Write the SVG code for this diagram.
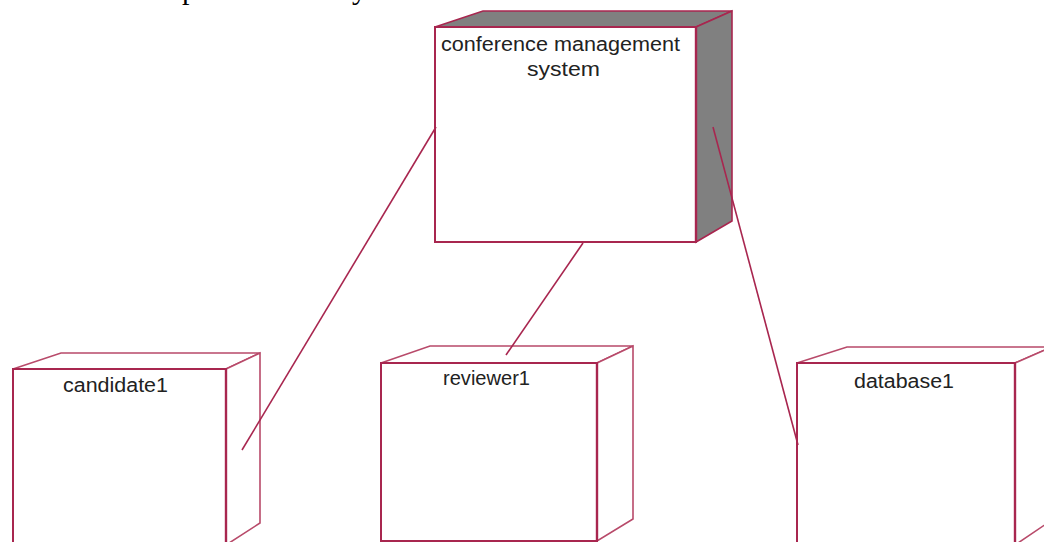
<svg xmlns="http://www.w3.org/2000/svg" width="1044" height="542" viewBox="0 0 1044 542">
<style>
.face{fill:#ffffff;stroke:#a8264f;stroke-width:2;stroke-linejoin:miter}
.side{fill:#ffffff;stroke:#b84a6a;stroke-width:1.6;stroke-linejoin:miter}
.dark{fill:#808080;stroke:#a8264f;stroke-width:1.6;stroke-linejoin:miter}
.edge{stroke:#a8264f;stroke-width:2.4;fill:none}
.lbl{font-family:"Liberation Sans",Arial,sans-serif;font-size:20px;fill:#222222}
.conn{stroke:#a8264f;stroke-width:1.6;fill:none}
.cut{font-family:"Liberation Serif","Times New Roman",serif;font-size:30px;fill:#000000}
</style>
<text class="cut" x="182" y="-1">p</text>
<text class="cut" x="352" y="-1">y</text>
<g id="conference-management-system">
<polygon class="dark" points="435,27 483,11 732,11 696,27"/>
<polygon class="dark" points="696,27 732,11 732,221 696,242"/>
<rect class="face" x="435" y="27" width="261" height="215"/>
<line class="edge" x1="696" y1="27" x2="696" y2="242"/>
<text class="lbl" x="441" y="51" textLength="239" lengthAdjust="spacingAndGlyphs">conference management</text>
<text class="lbl" x="527" y="76" textLength="73" lengthAdjust="spacingAndGlyphs">system</text>
</g>
<g id="candidate1">
<polygon class="side" points="13,369 61,353 260,353 226,369"/>
<polygon class="side" points="226,369 260,353 260,523 226,545"/>
<rect class="face" x="13" y="369" width="213" height="180"/>
<line class="edge" x1="226" y1="369" x2="226" y2="545"/>
<text class="lbl" x="63" y="392" textLength="105" lengthAdjust="spacingAndGlyphs">candidate1</text>
</g>
<g id="reviewer1">
<polygon class="side" points="381,363 430,346 633,346 597,363"/>
<polygon class="side" points="597,363 633,346 633,519 597,541"/>
<rect class="face" x="381" y="363" width="216" height="178"/>
<line class="edge" x1="597" y1="363" x2="597" y2="541"/>
<text class="lbl" x="443" y="385" textLength="87" lengthAdjust="spacingAndGlyphs">reviewer1</text>
</g>
<g id="database1">
<polygon class="side" points="797,363 847,347 1052,347 1015,363"/>
<polygon class="side" points="1015,363 1052,347 1052,520 1015,545"/>
<rect class="face" x="797" y="363" width="218" height="186"/>
<line class="edge" x1="1015" y1="363" x2="1015" y2="545"/>
<text class="lbl" x="854" y="388" textLength="100" lengthAdjust="spacingAndGlyphs">database1</text>
</g>
<g id="connectors">
<line class="conn" x1="436" y1="127" x2="242" y2="450"/>
<line class="conn" x1="583" y1="243" x2="506" y2="355"/>
<line class="conn" x1="713" y1="127" x2="798" y2="445"/>
</g>
</svg>
